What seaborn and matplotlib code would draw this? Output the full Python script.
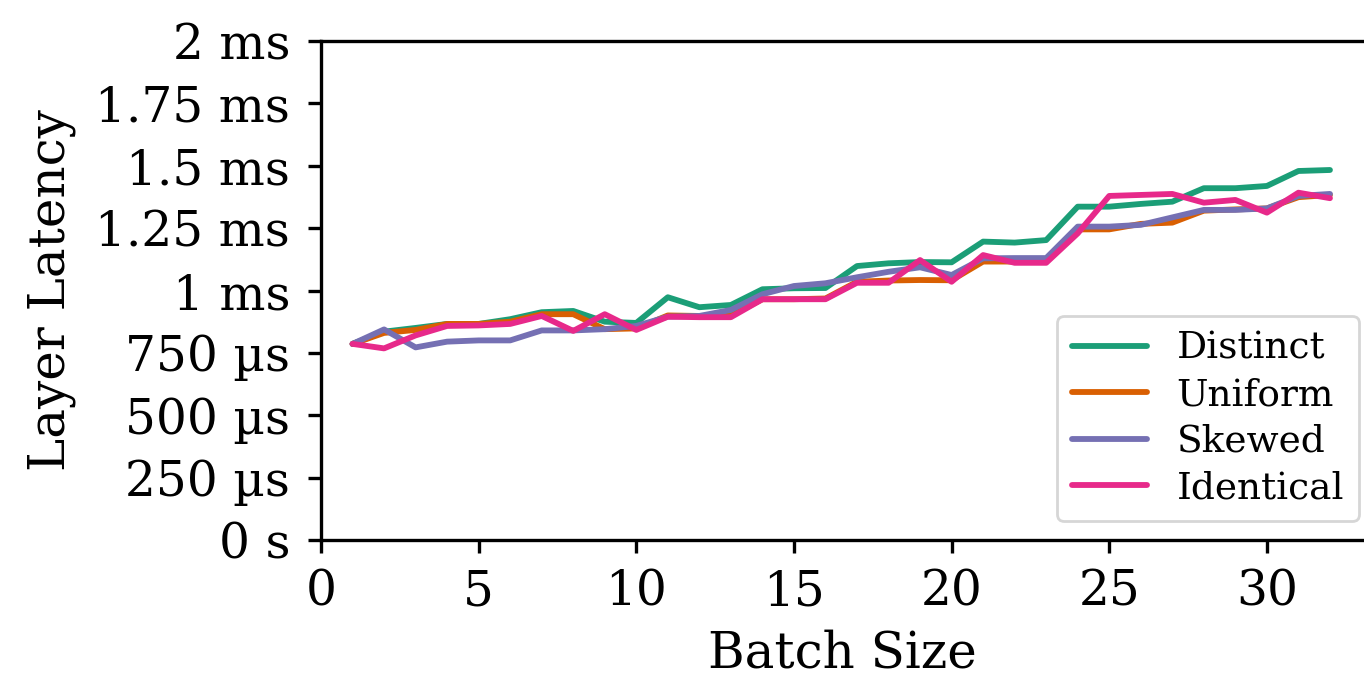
import numpy as np
import pandas as pd
import matplotlib
matplotlib.use("Agg")
import matplotlib.pyplot as plt
from matplotlib.ticker import EngFormatter, MultipleLocator
import seaborn as sns

batch_sizes = list(range(1, 33))
series_names = ["Distinct", "Uniform", "Skewed", "Identical"]

# latency in milliseconds
distinct_ms = [0.786, 0.835, 0.85, 0.866, 0.866, 0.885, 0.913, 0.918, 0.875, 0.87,
               0.973, 0.933, 0.942, 1.005, 1.009, 1.01, 1.098, 1.109, 1.114, 1.113,
               1.196, 1.192, 1.202, 1.336, 1.336, 1.347, 1.356, 1.41, 1.41, 1.419,
               1.479, 1.483]
uniform_ms = [0.786, 0.83, 0.842, 0.866, 0.866, 0.875, 0.905, 0.905, 0.845, 0.848,
              0.9, 0.898, 0.9, 0.965, 0.965, 0.968, 1.035, 1.04, 1.042, 1.041,
              1.116, 1.116, 1.116, 1.245, 1.245, 1.267, 1.272, 1.32, 1.325, 1.329,
              1.374, 1.383]
skewed_ms = [0.786, 0.844, 0.772, 0.795, 0.80, 0.80, 0.84, 0.84, 0.845, 0.858,
             0.895, 0.898, 0.922, 0.985, 1.018, 1.029, 1.053, 1.075, 1.093, 1.062,
             1.129, 1.13, 1.13, 1.256, 1.256, 1.263, 1.293, 1.323, 1.323, 1.329,
             1.379, 1.387]
identical_ms = [0.786, 0.768, 0.82, 0.858, 0.86, 0.866, 0.898, 0.838, 0.905, 0.842,
                0.895, 0.893, 0.893, 0.965, 0.965, 0.965, 1.031, 1.031, 1.122, 1.035,
                1.142, 1.111, 1.111, 1.229, 1.379, 1.383, 1.387, 1.352, 1.363, 1.312,
                1.392, 1.37]

series_values = [distinct_ms, uniform_ms, skewed_ms, identical_ms]

rows = []
for name, vals in zip(series_names, series_values):
    for b, v in zip(batch_sizes, vals):
        rows.append({"Batch Size": b, "Latency": v * 1e-3, "Distribution": name})
df = pd.DataFrame(rows)

sns.set_style("ticks")
plt.rcParams["font.family"] = ["DejaVu Serif"]
plt.rcParams["text.color"] = "black"
plt.rcParams["axes.labelcolor"] = "black"
plt.rcParams["axes.linewidth"] = 1.2
plt.rcParams["xtick.major.width"] = 1.2
plt.rcParams["ytick.major.width"] = 1.2
plt.rcParams["xtick.major.size"] = 4.6
plt.rcParams["ytick.major.size"] = 4.6
plt.rcParams["xtick.color"] = "black"
plt.rcParams["ytick.color"] = "black"
plt.rcParams["axes.edgecolor"] = "black"

fig = plt.figure(figsize=(6.82, 3.39), dpi=200)
ax_w_px = 1364 - 321
ax = fig.add_axes([321 / 1364, (678 - 540) / 678, ax_w_px / 1364, (540 - 41) / 678])

palette = sns.color_palette("Dark2", 4)
sns.lineplot(data=df, x="Batch Size", y="Latency", hue="Distribution",
             hue_order=series_names, palette=palette, linewidth=2.1, ax=ax)

ax.set_xlim(0, ax_w_px / 31.53)
ax.set_ylim(0, 2e-3)
ax.xaxis.set_major_locator(MultipleLocator(5))
ax.yaxis.set_major_locator(MultipleLocator(0.25e-3))
ax.yaxis.set_major_formatter(EngFormatter(unit="s"))
ax.tick_params(axis="y", labelsize=17.5, pad=6.5)
ax.tick_params(axis="x", labelsize=17.5, pad=5.5)
ax.set_xlabel("Batch Size", fontsize=18, labelpad=5)
ax.set_ylabel("Layer Latency", fontsize=18, labelpad=7)
ax.spines["right"].set_visible(False)

leg = ax.legend(loc="lower right", fontsize=13.5, title=None, frameon=True,
                bbox_to_anchor=(1.0 + 14 / ax_w_px, 0.0), handlelength=2.0,
                borderaxespad=0.5, labelspacing=0.28)
leg.get_frame().set_edgecolor("#cccccc")
for t in leg.get_texts():
    t.set_color("black")

fig.savefig("out.png", dpi=200)
